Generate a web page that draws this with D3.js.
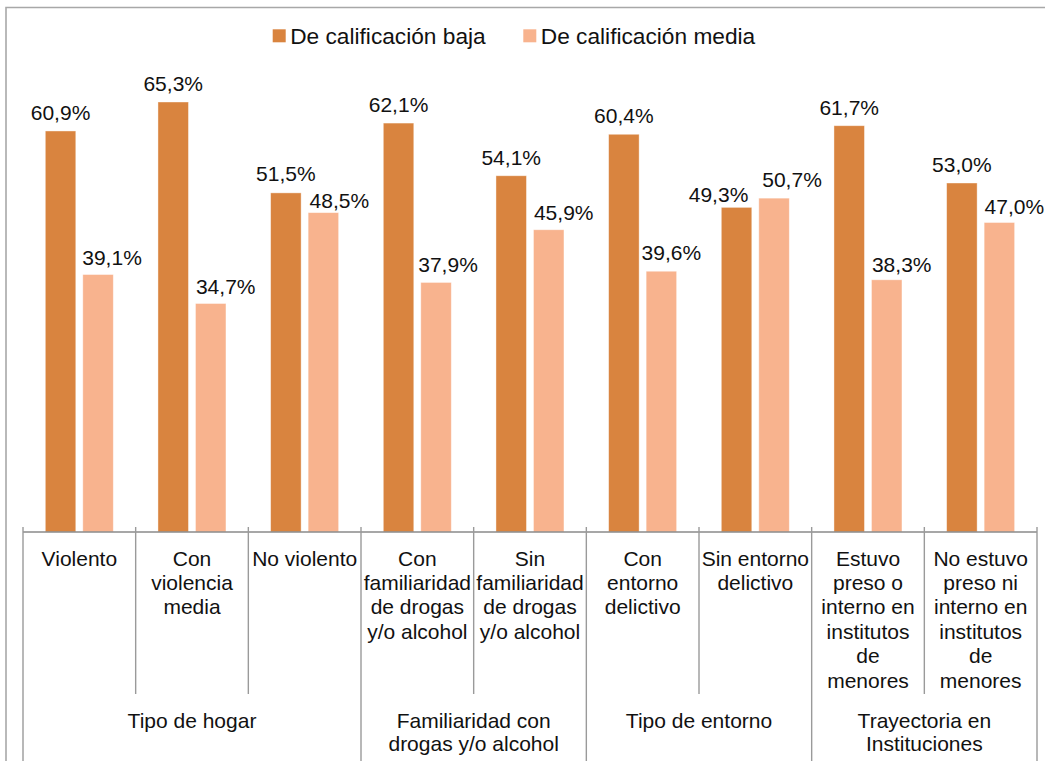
<!DOCTYPE html>
<html>
<head>
<meta charset="utf-8">
<script src="https://cdn.jsdelivr.net/npm/d3@7"></script>
<style>
  html, body { margin: 0; padding: 0; background: #fff; }
  svg { display: block; font-family: "Liberation Sans", Arial, sans-serif; }
</style>
</head>
<body>
<svg id="chart" width="1045" height="761"></svg>
<script>
// Categories (each label split into its drawn lines)
const categories = [
  ["Violento"],
  ["Con", "violencia", "media"],
  ["No violento"],
  ["Con", "familiaridad", "de drogas", "y/o alcohol"],
  ["Sin", "familiaridad", "de drogas", "y/o alcohol"],
  ["Con", "entorno", "delictivo"],
  ["Sin entorno", "delictivo"],
  ["Estuvo", "preso o", "interno en", "institutos", "de", "menores"],
  ["No estuvo", "preso ni", "interno en", "institutos", "de", "menores"]
];

// Series values (%)
const seriesNames = ["De calificación baja", "De calificación media"];
const baja  = [60.9, 65.3, 51.5, 62.1, 54.1, 60.4, 49.3, 61.7, 53.0];
const media = [39.1, 34.7, 48.5, 37.9, 45.9, 39.6, 50.7, 38.3, 47.0];

// Outer grouping: label lines and number of categories in each group
const groupLabels = [
  ["Tipo de hogar"],
  ["Familiaridad con", "drogas y/o alcohol"],
  ["Tipo de entorno"],
  ["Trayectoria en", "Instituciones"]
];
const groupSizes = [3, 2, 2, 2];

const colors = ["#D9843F", "#F8B38E"];
const textColor = "#111";
const lineColor = "#9a9a9a";

// Value-label placement: horizontal shift and gap above the bar, per series
const labelDx = [
  [0, 0, 0, 0, 0, 0, -18, 0, 0],
  [14, 15, 16, 12, 15, 10, 18, 15, 15]
];
const labelGap = [
  [11, 11, 12, 11, 11, 11, 5, 11, 11],
  [9.5, 10, 4.5, 10, 10, 11, 11, 8, 9]
];

const svg = d3.select("#chart");

// Chart frame (left and top edges)
svg.append("path")
  .attr("d", "M6,770 L6,7.5 L1060,7.5")
  .attr("fill", "none")
  .attr("stroke", "#a8a8a8")
  .attr("stroke-width", 1.6);

const plotLeft = 23, plotRight = 1037, baseY = 532;

const x = d3.scaleBand()
  .domain(d3.range(categories.length))
  .range([plotLeft, plotRight])
  .padding(0);

const xInner = d3.scaleBand()
  .domain(d3.range(seriesNames.length))
  .range([22.3, 90.3])
  .paddingInner(0.187)
  .paddingOuter(0);

const y = d3.scaleLinear()
  .domain([0, 70])
  .range([baseY, baseY - 70 * 6.585]);

const seriesData = [baja, media];

// Bars
seriesData.forEach((vals, s) => {
  svg.append("g")
    .selectAll("rect")
    .data(vals)
    .join("rect")
    .attr("x", (d, i) => x(i) + xInner(s))
    .attr("y", d => y(d))
    .attr("width", xInner.bandwidth())
    .attr("height", d => y(0) - y(d))
    .attr("fill", colors[s])
    .attr("stroke", "#fff")
    .attr("stroke-opacity", 0.5)
    .attr("stroke-width", 0.8);
});

// Value labels
seriesData.forEach((vals, s) => {
  svg.append("g")
    .selectAll("text")
    .data(vals)
    .join("text")
    .attr("x", (d, i) => x(i) + xInner(s) + xInner.bandwidth() / 2 + labelDx[s][i])
    .attr("y", (d, i) => y(d) - labelGap[s][i])
    .attr("text-anchor", "middle")
    .attr("font-size", 21)
    .attr("fill", textColor)
    .text(d => d.toFixed(1).replace(".", ",") + "%");
});

// Category axis line
svg.append("line")
  .attr("x1", plotLeft).attr("x2", plotRight)
  .attr("y1", baseY).attr("y2", baseY)
  .attr("stroke", "#8a8a8a")
  .attr("stroke-width", 1.6);

// Category dividers: group boundaries run to the bottom, inner ones stop above group labels
const groupStarts = [0];
groupSizes.forEach((n, i) => groupStarts.push(groupStarts[i] + n));
const boundaries = d3.range(categories.length + 1);
svg.append("g")
  .selectAll("line")
  .data(boundaries)
  .join("line")
  .attr("x1", i => i < categories.length ? x(i) : plotRight)
  .attr("x2", i => i < categories.length ? x(i) : plotRight)
  .attr("y1", baseY - 5)
  .attr("y2", i => groupStarts.includes(i) ? 770 : 694)
  .attr("stroke", lineColor)
  .attr("stroke-width", 1.4);

// Category labels
const catG = svg.append("g")
  .selectAll("text")
  .data(categories)
  .join("text")
  .attr("text-anchor", "middle")
  .attr("font-size", 21)
  .attr("fill", textColor)
  .attr("transform", (d, i) => `translate(${x(i) + x.bandwidth() / 2},565.5)`);
catG.selectAll("tspan")
  .data(d => d)
  .join("tspan")
  .attr("x", 0)
  .attr("y", (d, j) => j * 24.4)
  .text(d => d);

// Group labels
const grpG = svg.append("g")
  .selectAll("text")
  .data(groupLabels)
  .join("text")
  .attr("text-anchor", "middle")
  .attr("font-size", 21)
  .attr("fill", textColor)
  .attr("transform", (d, g) => {
    const a = x(groupStarts[g]);
    const b = groupStarts[g + 1] < categories.length ? x(groupStarts[g + 1]) : plotRight;
    return `translate(${(a + b) / 2},728)`;
  });
grpG.selectAll("tspan")
  .data(d => d)
  .join("tspan")
  .attr("x", 0)
  .attr("y", (d, j) => j * 23)
  .text(d => d);

// Legend
const legendX = [272.7, 523.3];
const legend = svg.append("g")
  .selectAll("g")
  .data(seriesNames)
  .join("g")
  .attr("transform", (d, i) => `translate(${legendX[i]},29.3)`);
legend.append("rect")
  .attr("width", 13).attr("height", 13)
  .attr("fill", (d, i) => colors[i]);
legend.append("text")
  .attr("x", 17.5)
  .attr("y", 14.8)
  .attr("font-size", 22.7)
  .attr("fill", textColor)
  .text(d => d);
</script>
</body>
</html>
